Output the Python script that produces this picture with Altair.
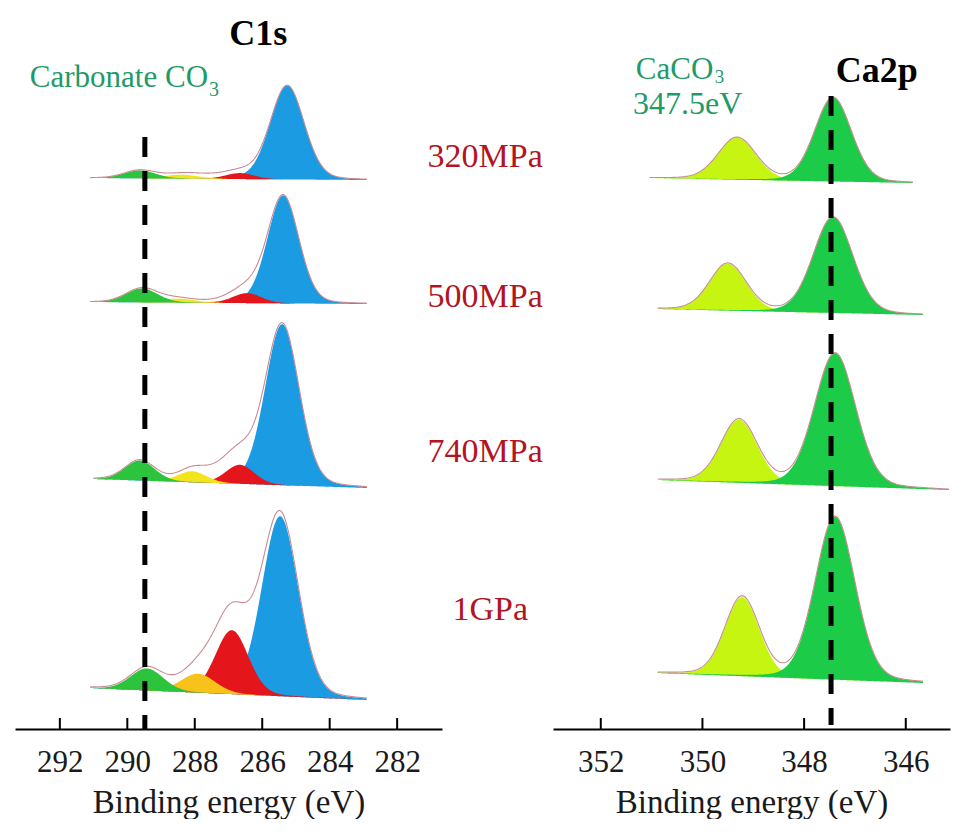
import numpy as np
import pandas as pd
import altair as alt

# ------------------------------------------------------------------ data
PRESSURES = ["320MPa", "500MPa", "740MPa", "1GPa"]

# C1s fitted components per pressure (center eV, height in a.u., FWHM eV)
C1S_BLUE_C = [285.26, 285.38, 285.41, 285.47]
C1S_BLUE_H = [94, 108, 161, 180]
C1S_BLUE_W = [1.19, 1.10, 1.19, 1.28]
C1S_RED_C = [286.66, 286.45, 286.66, 286.90]
C1S_RED_H = [6, 10, 19, 64]
C1S_RED_W = [1.00, 1.00, 1.00, 1.15]
C1S_YEL_C = [288.40, 288.50, 288.08, 287.90]
C1S_YEL_H = [4, 4, 11, 19]
C1S_YEL_W = [1.20, 1.20, 1.00, 1.20]
C1S_GRN_C = [289.63, 289.57, 289.63, 289.42]
C1S_GRN_H = [8, 14, 20, 22]
C1S_GRN_W = [1.10, 1.10, 1.05, 1.15]
# unfitted shoulder seen only in the raw envelope
C1S_RES_C = [287.50, 286.80, 287.00, 286.90]
C1S_RES_H = [3, 4, 13, 15]
C1S_RES_W = [1.50, 1.20, 1.50, 1.90]
C1S_OFFSET = [549, 425, 241, 29]      # stacking offset of each spectrum
C1S_BG_STEP = [2, 2, 9, 12]           # background rise toward high BE
C1S_START = [291.1, 291.1, 291.0, 291.1]
C1S_END = [282.9, 282.9, 282.9, 282.9]

# Ca2p fitted components
CA_GRN_C = [347.43, 347.43, 347.39, 347.39]
CA_GRN_H = [84, 96, 133, 163]
CA_GRN_W = [0.85, 0.92, 0.95, 0.92]
CA_LIM_C = [349.32, 349.50, 349.28, 349.22]
CA_LIM_H = [42, 47, 63, 79]
CA_LIM_W = [0.88, 0.85, 0.85, 0.80]
CA_OFFSET = [546, 414, 239, 46]
CA_BG_STEP = [5, 6, 10, 10]
CA_START = [351.04, 350.88, 350.88, 350.88]
CA_END = [345.86, 345.66, 345.15, 345.66]

C1S_TICKS = [292, 290, 288, 286, 284, 282]
CA_TICKS = [352, 350, 348, 346]
CARBONATE_E = [289.48]
CACO3_E = [347.47]

# ------------------------------------------------------------------ helpers
GL_MIX = 0.15


def peak(E, c, h, w):
    d2 = 4.0 * (E - c) ** 2 / w ** 2
    return h * ((1 - GL_MIX) * np.exp(-np.log(2) * d2) + GL_MIX / (1 + d2))


def build(rows, comps, residual=None):
    area_parts, env_parts = [], []
    for i, r in enumerate(rows):
        E = np.arange(r["end"], r["start"] + 1e-9, 0.02)
        frac = (E - r["end"]) / (r["start"] - r["end"])
        bg = r["offset"] + r["step"] * frac
        total = np.zeros_like(E)
        for name, color_key, C, H, W in comps:
            key = color_key(i) if callable(color_key) else color_key
            y = peak(E, C[i], H[i], W[i])
            total += y
            m = y > 0.2
            area_parts.append(pd.DataFrame({"E": E[m], "lo": bg[m], "hi": bg[m] + y[m],
                                            "row": PRESSURES[i], "comp": key, "layer": name}))
        if residual is not None:
            C, H, W = residual
            total += peak(E, C[i], H[i], W[i])
        env_parts.append(pd.DataFrame({"E": E, "env": bg + total, "row": PRESSURES[i]}))
    return pd.concat(area_parts), pd.concat(env_parts)


c1s_rows = [dict(start=C1S_START[i], end=C1S_END[i], offset=C1S_OFFSET[i], step=C1S_BG_STEP[i]) for i in range(4)]
ca_rows = [dict(start=CA_START[i], end=CA_END[i], offset=CA_OFFSET[i], step=CA_BG_STEP[i]) for i in range(4)]

c1s_area, c1s_env = build(
    c1s_rows,
    [("blue", "blue", C1S_BLUE_C, C1S_BLUE_H, C1S_BLUE_W),
     ("red", "red", C1S_RED_C, C1S_RED_H, C1S_RED_W),
     ("yellow", lambda i: "orange" if i == 3 else "yellow", C1S_YEL_C, C1S_YEL_H, C1S_YEL_W),
     ("green", "green", C1S_GRN_C, C1S_GRN_H, C1S_GRN_W)],
    residual=(C1S_RES_C, C1S_RES_H, C1S_RES_W),
)
ca_area, ca_env = build(
    ca_rows,
    [("lime", "lime", CA_LIM_C, CA_LIM_H, CA_LIM_W),
     ("cagreen", "cagreen", CA_GRN_C, CA_GRN_H, CA_GRN_W)],
)

COLOR_SCALE = alt.Scale(
    domain=["blue", "red", "yellow", "orange", "green", "lime", "cagreen"],
    range=["#1b9be2", "#e4161c", "#f4e41c", "#f8c21a", "#2cc43c", "#c7f512", "#1ccc48"],
)

W_L, W_R, H = 427, 397, 721
SERIF = "Liberation Serif"
y_scale = alt.Scale(domain=[0, H], nice=False, zero=False)


def x_enc(domain, ticks):
    return alt.X(
        "E:Q",
        scale=alt.Scale(domain=domain, reverse=True, nice=False, zero=False),
        axis=alt.Axis(values=ticks, ticks=False, tickSize=0, grid=False, format="d",
                      domainColor="black", domainWidth=2,
                      labelFont=SERIF, labelFontSize=31, labelColor="#1a1a1a", labelPadding=18,
                      title="Binding energy (eV)", titleFont=SERIF, titleFontSize=33,
                      titleFontWeight="normal", titleColor="#1a1a1a", titlePadding=9),
    )


def panel(area_df, env_df, order, domain, ticks, dash_e, dash_top, dash_bottom, texts, width):
    xe = x_enc(domain, ticks)
    layers = []
    for name in order:
        sub = area_df[area_df["layer"] == name]
        layers.append(
            alt.Chart(sub).mark_area(opacity=1, interpolate="linear").encode(
                x=xe, y=alt.Y("hi:Q", scale=y_scale, axis=None), y2="lo:Q",
                color=alt.Color("comp:N", scale=COLOR_SCALE, legend=None),
                detail="row:N",
            )
        )
    layers.append(
        alt.Chart(env_df).mark_line(color="#c98b93", strokeWidth=1.1).encode(
            x=xe, y=alt.Y("env:Q", scale=y_scale, axis=None), detail="row:N")
    )
    layers.append(
        alt.Chart(pd.DataFrame({"E": dash_e})).mark_rule(
            color="black", strokeWidth=5, strokeDash=[20, 14]).encode(
            x=xe, y=alt.value(dash_top), y2=alt.value(dash_bottom))
    )
    layers.append(
        alt.Chart(pd.DataFrame({"E": ticks})).mark_rule(color="black", strokeWidth=2).encode(
            x=xe, y=alt.value(H - 11), y2=alt.value(H))
    )
    for t in texts:
        df = pd.DataFrame({"E": [t["E"]], "v": [t["v"]], "label": [t["text"]]})
        layers.append(
            alt.Chart(df).mark_text(font=SERIF, fontSize=t["size"], color=t["color"],
                                    fontWeight=t.get("weight", "normal"), align=t.get("align", "center"),
                                    baseline="alphabetic").encode(
                x=xe, y=alt.Y("v:Q", scale=y_scale, axis=None), text="label:N")
        )
    return alt.layer(*layers).properties(width=width, height=H)


RED_TXT = "#b3141f"
GRN_TXT = "#1f9a68"
left_texts = [
    dict(E=286.12, v=684, text="C1s", size=36, color="black", weight="bold"),
    dict(E=292.89, v=642, text="Carbonate CO", size=31, color=GRN_TXT, align="left"),
    dict(E=287.58, v=633, text="3", size=20, color=GRN_TXT, align="left"),
    dict(E=279.39, v=562, text="320MPa", size=34, color=RED_TXT),
    dict(E=279.39, v=422, text="500MPa", size=34, color=RED_TXT),
    dict(E=279.39, v=267, text="740MPa", size=34, color=RED_TXT),
    dict(E=279.24, v=109, text="1GPa", size=34, color=RED_TXT),
]
right_texts = [
    dict(E=346.57, v=647, text="Ca2p", size=36, color="black", weight="bold"),
    dict(E=351.31, v=650, text="CaCO", size=31, color=GRN_TXT, align="left"),
    dict(E=349.76, v=646, text="3", size=19, color=GRN_TXT, align="left"),
    dict(E=350.29, v=615, text="347.5eV", size=32, color=GRN_TXT),
]

left = panel(c1s_area, c1s_env, ["blue", "red", "yellow", "green"], [280.67, 293.33], C1S_TICKS,
             CARBONATE_E, 129, 721, left_texts, W_L)
right = panel(ca_area, ca_env, ["lime", "cagreen"], [345.13, 352.94], CA_TICKS,
              CACO3_E, 88, 717, right_texts, W_R)

chart = alt.hconcat(left, right, spacing=111, bounds="flush").properties(
    padding={"left": 7, "top": 0, "right": 0, "bottom": 0}
).configure_view(strokeWidth=0)

chart.save("out.html", embed_options={"renderer": "svg", "actions": False})
